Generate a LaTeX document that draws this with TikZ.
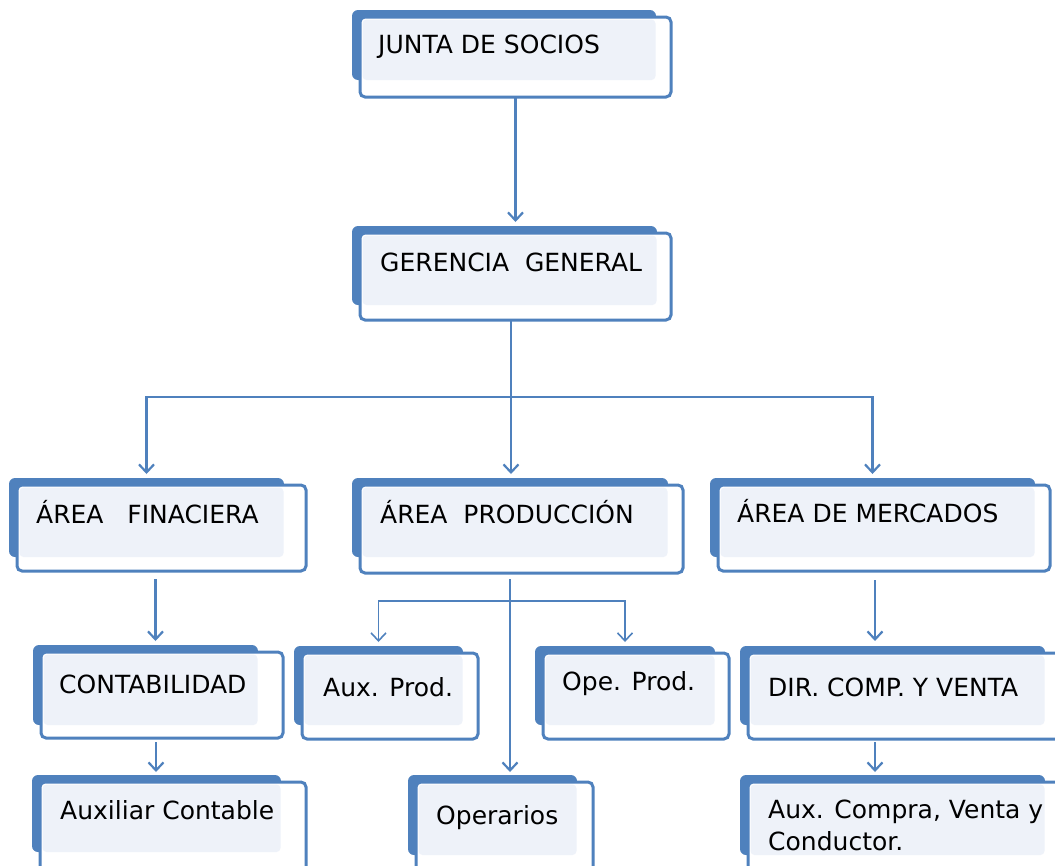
\documentclass[tikz,border=0pt]{standalone}
\usepackage{fontspec}
\setmainfont{DejaVu Sans}
\usetikzlibrary{arrows.meta}
\definecolor{boxblue}{HTML}{4F81BD}
\definecolor{lightfill}{HTML}{EEF2F9}
\tikzset{
  backbox/.style={rectangle, fill=boxblue, rounded corners=6pt, inner sep=0pt, outer sep=0pt},
  frontbox/.style={rectangle, draw=boxblue, line width=3pt, fill=white, rounded corners=5pt, inner sep=0pt, outer sep=0pt},
  lightbox/.style={fill=lightfill, rounded corners=4pt},
  lbl/.style={anchor=base west, inner sep=0pt, font=\fontsize{25}{30}\selectfont, text=black},
  conn/.style={draw=boxblue, line width=2.2pt, -{Straight Barb[length=8pt,width=15pt]}},
  thinconn/.style={conn, line width=1.6pt},
}
% name, back x1, back y1, back x2, back y2, front x2, front y2
\newcommand\orgbox[7]{%
  \node[backbox, minimum width={(#4-#2)*1pt}, minimum height={(#5-#3)*1pt}] (#1b) at ({(#2+#4)/2},{(#3+#5)/2}) {};
  \node[frontbox, minimum width={(#6-#2-8)*1pt}, minimum height={(#7-#3-7)*1pt}] (#1) at ({(#2+8+#6)/2},{(#3+7+#7)/2}) {};
  \fill[lightbox] (#2+10.5,#3+9.5) rectangle (#4-0.5,#5);
}
\begin{document}
\begin{tikzpicture}[x=1pt,y=-1pt]
\useasboundingbox (0,0) rectangle (1055,865);
\clip (0,0) rectangle (1055,865);

\orgbox{junta}{352}{10}{656}{80}{671}{97}
\node[lbl] (juntat) at (378,53) {JUNTA DE SOCIOS};

\orgbox{ger}{352}{226}{657}{305}{671}{320}
\node[lbl] (gert) at (380,271) {GERENCIA\ \ GENERAL};

\orgbox{fin}{9}{478}{284}{557}{306}{571}
\node[lbl] (fint) at (36,523) {ÁREA\ \ \ FINACIERA};

\orgbox{prod}{352}{478}{668}{557}{683}{573}
\node[lbl] (prodt) at (380,523) {ÁREA\ \ PRODUCCIÓN};

\orgbox{merc}{710}{478}{1035}{557}{1050}{571}
\node[lbl] (merct) at (737,522) {ÁREA DE MERCADOS};

\orgbox{cont}{33}{645}{258}{725}{283}{738}
\node[lbl] (contt) at (59,693) {CONTABILIDAD};

\orgbox{auxp}{294}{646}{463}{725}{478}{739}
\node[lbl] (auxpt) at (323,696) {Aux. Prod.};

\orgbox{opep}{535}{646}{715}{725}{729}{739}
\node[lbl] (opept) at (562,690) {Ope. Prod.};

\orgbox{dir}{740}{646}{1045}{725}{1062}{739}
\node[lbl] (dirt) at (768,696) {DIR. COMP. Y VENTA};

\orgbox{auxc}{32}{775}{281}{852}{306}{885}
\node[lbl] (auxct) at (60,819) {Auxiliar Contable};

\orgbox{oper}{408}{775}{577}{855}{593}{885}
\node[lbl] (opert) at (436,824) {Operarios};

\orgbox{auxcv}{740}{775}{1045}{855}{1062}{885}
\node[lbl] (auxcvt) at (768,818) {Aux. Compra, Venta y};
\node[lbl] (auxcvt2) at (768,850) {Conductor.};

% connectors
\draw[conn, shorten >=4pt] (junta.south) -- (junta.south |- gerb.north);

\coordinate (gs) at ([xshift=-4.5pt]ger.south);
\draw[conn, shorten >=4pt] (gs) -- (gs |- prodb.north);
\coordinate (gb) at ([yshift=-77pt]gs);
\draw[conn, shorten >=4pt] (gb) -| (finb.north);
\draw[conn, shorten >=4pt] (gb) -| (mercb.north);

\coordinate (fs) at ([xshift=-6pt]fin.south);
\draw[conn, shorten <=8pt, shorten >=4pt] (fs) -- (fs |- contb.north);
\coordinate (cs) at ([xshift=-6pt]cont.south);
\draw[conn, shorten <=4pt, shorten >=3pt] (cs) -- (cs |- auxcb.north);

\coordinate (ps) at (prodb.south |- prod.south);
\draw[conn, shorten <=6pt, shorten >=3pt] (ps) -- (ps |- operb.north);
\coordinate (pb) at ([yshift=-28pt]ps);
\draw[thinconn, shorten >=4pt] (pb) -| (auxpb.north);
\draw[thinconn, shorten >=4pt] (pb) -| (opepb.north);

\coordinate (ms) at ([xshift=-9pt]merc.south);
\draw[conn, shorten <=9pt, shorten >=5pt] (ms) -- (ms |- dirb.north);
\coordinate (ds) at ([xshift=-30pt]dir.south);
\draw[conn, shorten <=3pt, shorten >=3pt] (ds) -- (ds |- auxcvb.north);
\end{tikzpicture}
\end{document}
